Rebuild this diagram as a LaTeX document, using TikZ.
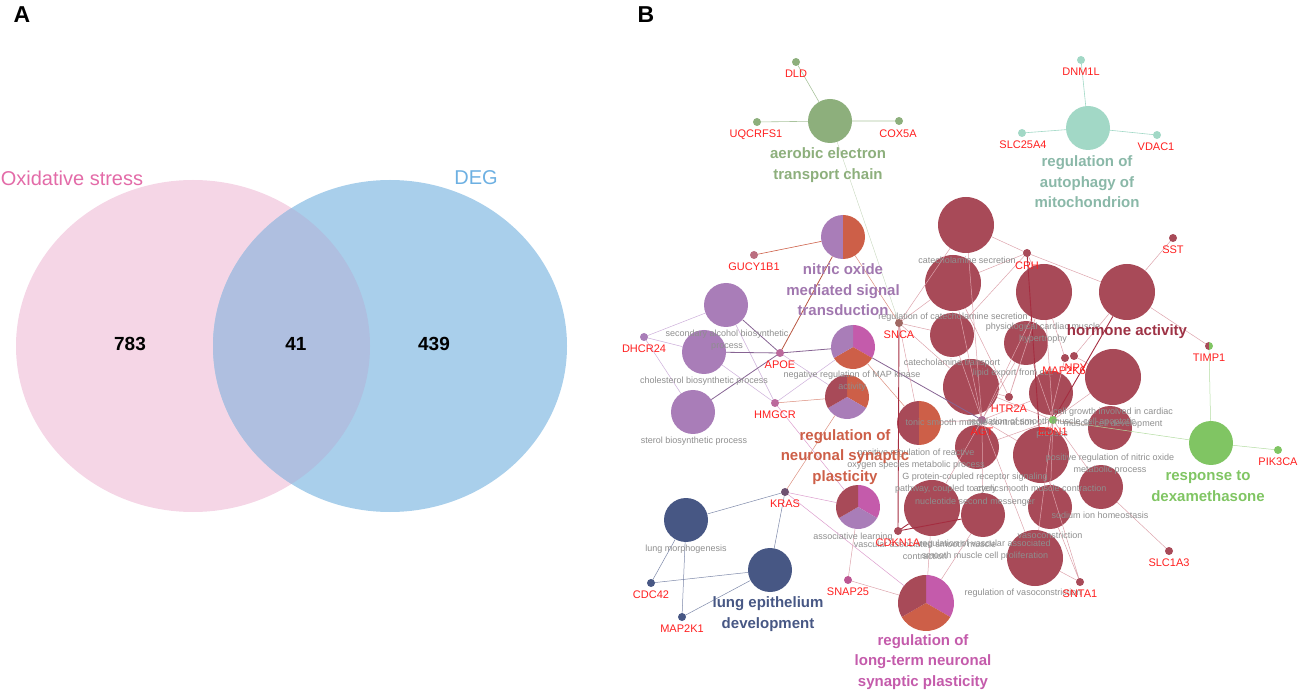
\documentclass[tikz,border=0pt]{standalone}
\usepackage{fontspec}
\setmainfont{Liberation Sans}
\definecolor{vpink}{HTML}{F5D6E6}
\definecolor{vblue}{HTML}{A9CFEB}
\definecolor{vmix}{HTML}{AFBFE0}
\definecolor{tpink}{HTML}{E36BA8}
\definecolor{tblue}{HTML}{6DB0E2}
\definecolor{dred}{HTML}{A84A58}
\definecolor{orng}{HTML}{CD5F48}
\definecolor{purp}{HTML}{A97DB8}
\definecolor{mag}{HTML}{C45BAB}
\definecolor{navy}{HTML}{475784}
\definecolor{aerg}{HTML}{8DAF7C}
\definecolor{teal}{HTML}{A2D8C6}
\definecolor{lgr}{HTML}{80C563}
\definecolor{genred}{HTML}{FF1F1F}
\definecolor{gtext}{HTML}{8E8E8E}
\definecolor{hred}{HTML}{9E3245}
\definecolor{lpk}{HTML}{DDA3AC}
\definecolor{lpu}{HTML}{CDAFDA}
\definecolor{dkedge}{HTML}{A52D40}
\newcommand\pieslice[5]{\fill[#5] (#1.center) -- ++(#2:#4) arc[start angle=#2, end angle=#3, radius=#4] -- cycle;}
\tikzset{
  term/.style={circle, inner sep=0pt, minimum size=#1, draw=none},
  gene/.style={circle, inner sep=0pt, minimum size=8pt},
  glab/.style={text=genred, font=\fontsize{11}{12}\selectfont, inner sep=0pt},
  tlab/.style={text=gtext, font=\fontsize{9}{12}\selectfont, align=center, inner sep=0pt},
  blab/.style={font=\bfseries\fontsize{15}{20.5}\selectfont, align=center, inner sep=0pt},
  edg/.style={draw=lpk, line width=0.5pt},
  pedg/.style={draw=lpu, line width=0.5pt},
  dkedg/.style={draw=dkedge, line width=0.9pt},
  num/.style={font=\bfseries\fontsize{19}{19}\selectfont, inner sep=0pt},
  panel/.style={font=\bfseries\fontsize{23}{23}\selectfont, inner sep=0pt}
}
\begin{document}
\begin{tikzpicture}[x=1pt,y=-1pt]
\useasboundingbox (0,0) rectangle (1299,692);
% ---------------- Panel A : Venn ----------------
\node[panel] (pA) at (22,15) {A};
\fill[vpink] (193,346) ellipse [x radius=177pt, y radius=166pt];
\fill[vblue] (390,346) ellipse [x radius=177pt, y radius=166pt];
\begin{scope}
  \clip (193,346) ellipse [x radius=177pt, y radius=166pt];
  \fill[vmix] (390,346) ellipse [x radius=177pt, y radius=166pt];
\end{scope}
\node[text=tpink, font=\fontsize{20}{20}\selectfont, inner sep=0pt] (los) at (72,178) {Oxidative stress};
\node[text=tblue, font=\fontsize{20}{20}\selectfont, inner sep=0pt] (ldeg) at (476,178) {DEG};
\node[num] (n1) at (130,344) {783};
\node[num] (n2) at (296,344) {41};
\node[num] (n3) at (434,344) {439};
% ---------------- Panel B : network ----------------
\node[panel] (pB) at (646,15) {B};
% term circles
\node[term=44pt, fill=aerg] (aer) at (830,121) {};
\node[term=44pt, fill=teal] (aut) at (1088,128) {};
\node[term=44pt, fill=purp] (sec) at (726,305) {};
\node[term=44pt, fill=purp] (chol) at (704,352) {};
\node[term=44pt, fill=purp] (ster) at (693,412) {};
\node[term=44pt, fill=navy] (lung) at (686,520) {};
\node[term=44pt, fill=navy] (lepi) at (770,570) {};
\node[term=44pt, fill=lgr] (dex) at (1211,443) {};
\node[term=56pt, fill=dred] (A) at (966,225) {};
\node[term=56pt, fill=dred] (B) at (953,283) {};
\node[term=44pt, fill=dred] (C) at (952,335) {};
\node[term=56pt, fill=dred] (D) at (1044,292) {};
\node[term=44pt, fill=dred] (E) at (1026,343) {};
\node[term=56pt, fill=dred] (F) at (1127,292) {};
\node[term=56pt, fill=dred] (G) at (971,387) {};
\node[term=44pt, fill=dred] (H) at (1051,393) {};
\node[term=56pt, fill=dred] (N) at (1113,377) {};
\node[term=44pt, fill=dred] (O) at (1110,428) {};
\node[term=44pt, fill=dred] (I) at (977,447) {};
\node[term=56pt, fill=dred] (J) at (1041,455) {};
\node[term=44pt, fill=dred] (Q) at (1101,487) {};
\node[term=56pt, fill=dred] (K) at (932,508) {};
\node[term=44pt, fill=dred] (L) at (983,515) {};
\node[term=44pt, fill=dred] (M) at (1050,507) {};
\node[term=56pt, fill=dred] (S) at (1035,558) {};
% pie charts
\node[term=44pt] (nit) at (843,237) {};
\pieslice{nit}{90}{270}{22pt}{purp}
\pieslice{nit}{-90}{90}{22pt}{orng}
\node[term=44pt] (mapk) at (853,347) {};
\pieslice{mapk}{-30}{90}{22pt}{mag}
\pieslice{mapk}{210}{330}{22pt}{orng}
\pieslice{mapk}{90}{210}{22pt}{purp}
\node[term=44pt] (neur) at (847,397) {};
\pieslice{neur}{-30}{90}{22pt}{orng}
\pieslice{neur}{210}{330}{22pt}{purp}
\pieslice{neur}{90}{210}{22pt}{dred}
\node[term=44pt] (ton) at (919,423) {};
\pieslice{ton}{90}{270}{22pt}{dred}
\pieslice{ton}{-90}{90}{22pt}{orng}
\node[term=44pt] (asso) at (858,507) {};
\pieslice{asso}{-30}{90}{22pt}{mag}
\pieslice{asso}{210}{330}{22pt}{purp}
\pieslice{asso}{90}{210}{22pt}{dred}
\node[term=56pt] (ltp) at (926,603) {};
\pieslice{ltp}{-30}{90}{28pt}{mag}
\pieslice{ltp}{210}{330}{28pt}{orng}
\pieslice{ltp}{90}{210}{28pt}{dred}
% gene dots
\node[gene, fill=aerg] (DLD) at (796,62) {};
\node[gene, fill=aerg] (UQC) at (757,122) {};
\node[gene, fill=aerg] (COX) at (899,121) {};
\node[gene, fill=teal] (DNM) at (1081,60) {};
\node[gene, fill=teal] (SLC25) at (1022,133) {};
\node[gene, fill=teal] (VDAC) at (1157,135) {};
\node[gene, fill=lgr] (PIK) at (1278,450) {};
% edges
\draw[draw=aerg!75, line width=0.6pt] (DLD) -- (aer) (UQC) -- (aer) (COX) -- (aer);
\draw[draw=teal, line width=0.6pt] (DNM) -- (aut) (SLC25) -- (aut) (VDAC) -- (aut);
\coordinate (cSNCA) at (899,323);
\coordinate (cAGT) at (982,420);
\coordinate (cEDN) at (1053,420);
\coordinate (cAPOE) at (780,353);
\coordinate (cHMG) at (775,403);
\coordinate (cKRAS) at (785,492);
\coordinate (cCRH) at (1027,253);
\coordinate (cTIMP) at (1209,346);
\draw[draw=aerg!50, line width=0.4pt] (aer) -- (cSNCA);
\draw[draw=lgr!60, line width=0.5pt] (cTIMP) -- (dex) (cEDN) -- (dex) (PIK) -- (dex);
% purple group
\coordinate (cDHC) at (644,337);
\coordinate (cGUC) at (754,255);
\draw[pedg] (cDHC) -- (sec) (cDHC) -- (chol) (cDHC) -- (ster)
  (cHMG) -- (sec) (cHMG) -- (chol) (cHMG) -- (mapk) (cAPOE) -- (neur);
\draw[draw=purp!80!black, line width=0.8pt] (cAPOE) -- (sec) (cAPOE) -- (chol) (cAPOE) -- (ster) (cAPOE) -- (mapk) (mapk) -- (cAGT);
\draw[draw=orng, line width=0.6pt] (cGUC) -- (nit);
\draw[draw=orng!90!black, line width=0.8pt] (cAPOE) -- (nit);
\draw[draw=orng!70, line width=0.5pt] (nit) -- (cSNCA) (cKRAS) -- (neur) (cHMG) -- (neur) (mapk) -- (ton);
\draw[draw=mag!60, line width=0.5pt] (cKRAS) -- (asso) (cKRAS) -- (ltp) (cHMG) -- (asso);
% lung group
\coordinate (cCDC) at (651,583);
\coordinate (cMAP2K1) at (682,617);
\draw[draw=navy!70, line width=0.5pt] (cKRAS) -- (lung) (cKRAS) -- (lepi) (cCDC) -- (lung) (cCDC) -- (lepi) (cMAP2K1) -- (lung) (cMAP2K1) -- (lepi);
% hormone cluster
\coordinate (cSST) at (1173,238);
\coordinate (cHTR) at (1009,397);
\coordinate (cMAPK6) at (1065,358);
\coordinate (cNPY) at (1074,356);
\coordinate (cCDK) at (898,531);
\coordinate (cSNTA) at (1080,582);
\coordinate (cSLC1) at (1169,551);
\coordinate (cSNAP) at (848,580);
\draw[edg] (cCRH) -- (A) (cCRH) -- (B) (cCRH) -- (D) (cCRH) -- (F) (cCRH) -- (C)
  (cSST) -- (F) (cTIMP) -- (F)
  (cSNCA) -- (A) (cSNCA) -- (B) (cSNCA) -- (C) (cSNCA) -- (G) (cSNCA) -- (ton)
  (cAGT) -- (A) (cAGT) -- (B) (cAGT) -- (C) (cAGT) -- (D) (cAGT) -- (E) (cAGT) -- (I)
  (cAGT) -- (J) (cAGT) -- (K) (cAGT) -- (L) (cAGT) -- (S) (cAGT) -- (ton) (cAGT) -- (H)
  (cHTR) -- (G) (cHTR) -- (D) (cHTR) -- (B) (cHTR) -- (E)
  (cEDN) -- (D) (cEDN) -- (N) (cEDN) -- (O) (cEDN) -- (J) (cEDN) -- (M) (cEDN) -- (S)
  (cEDN) -- (Q) (cEDN) -- (E) (cEDN) -- (I) (cEDN) -- (G)
  (cMAPK6) -- (D) (cMAPK6) -- (J) (cNPY) -- (F) (cNPY) -- (N)
  (cSNTA) -- (S) (cSNTA) -- (M) (cSNTA) -- (J) (cSLC1) -- (Q)
  (ltp) -- (K) (ltp) -- (L) (cSNAP) -- (asso) (cSNAP) -- (ltp);
\draw[dkedg] (cEDN) -- (F) (cEDN) -- (H) (cCRH) -- (J) (cCDK) -- (L) (cSNCA) -- (cCDK) (cCDK) -- (K);
% gene dots drawn on top of edges
\node[gene, fill=purp] (DHCR24) at (cDHC) {};
\node[gene, fill=purp!50!orng] (GUCY1B1) at (cGUC) {};
\node[gene, fill=purp!50!mag!80!orng] (APOE) at (cAPOE) {};
\node[gene, fill=purp!50!mag!80!orng] (HMGCR) at (cHMG) {};
\node[gene, fill=navy!60!dred] (KRAS) at (cKRAS) {};
\node[gene, fill=navy] (CDC42) at (cCDC) {};
\node[gene, fill=navy] (MAP2K1) at (cMAP2K1) {};
\node[gene, fill=mag!70!dred] (SNAP25) at (cSNAP) {};
\node[gene, fill=dred] (CDKN1A) at (cCDK) {};
\node[gene, fill=dred!70!aerg] (SNCA) at (cSNCA) {};
\node[gene, fill=dred] (CRH) at (cCRH) {};
\node[gene, fill=dred] (SST) at (cSST) {};
\node[gene, fill=dred] (HTR2A) at (cHTR) {};
\node[gene, fill=dred] (MAP2K6) at (cMAPK6) {};
\node[gene, fill=dred] (NPY) at (cNPY) {};
\node[gene, fill=dred] (SNTA1) at (cSNTA) {};
\node[gene, fill=dred] (SLC1A3) at (cSLC1) {};
\node[gene, fill=purp!60!dred] (AGT) at (cAGT) {};
\node[gene, fill=lgr] (EDN1) at (cEDN) {};
\node[gene] (TIMP1) at (cTIMP) {};
\pieslice{TIMP1}{90}{270}{4pt}{dred}
\pieslice{TIMP1}{-90}{90}{4pt}{lgr}
% grey term labels
\node[tlab] (l1) at (727,340) {secondary alcohol biosynthetic\\process};
\node[tlab] (l2) at (704,381) {cholesterol biosynthetic process};
\node[tlab] (l3) at (694,441) {sterol biosynthetic process};
\node[tlab] (l4) at (852,381) {negative regulation of MAP kinase\\activity};
\node[tlab] (l5) at (967,260) {catecholamine secretion};
\node[tlab] (l6) at (953,317) {regulation of catecholamine secretion};
\node[tlab] (l7) at (1043,333) {physiological cardiac muscle\\hypertrophy};
\node[tlab] (l8) at (952,363) {catecholamine transport};
\node[tlab] (l9) at (1013,373) {lipid export from cell};
\node[tlab] (l10) at (970,422) {tonic smooth muscle contraction};
\node[tlab] (l11) at (1052,428) {regulation of smooth muscle cell apoptotic\\process};
\node[tlab] (l12) at (1113,418) {cell growth involved in cardiac\\muscle cell development};
\node[tlab] (l13) at (916,459) {positive regulation of reactive\\oxygen species metabolic process};
\node[tlab] (l14) at (1110,464) {positive regulation of nitric oxide\\metabolic process};
\node[tlab] (l15) at (975,477) {G protein-coupled receptor signaling};
\node[tlab] (l16) at (947,489) {pathway, coupled to cyclic};
\node[tlab] (l17) at (975,502) {nucleotide second messenger};
\node[tlab] (l18) at (1040,489) {artery smooth muscle contraction};
\node[tlab] (l19) at (1100,515) {sodium ion homeostasis};
\node[tlab] (l20) at (1050,535) {vasoconstriction};
\node[tlab] (l21) at (925,550) {vascular associated smooth muscle\\contraction};
\node[tlab] (l22) at (985,550) {regulation of vascular associated\\smooth muscle cell proliferation};
\node[tlab] (l23) at (853,537) {associative learning};
\node[tlab] (l24) at (1023,593) {regulation of vasoconstriction};
\node[tlab] (l25) at (686,549) {lung morphogenesis};
% gene labels
\node[glab] at (796,74) {DLD};
\node[glab] at (756,135) {UQCRFS1};
\node[glab] at (898,134) {COX5A};
\node[glab] at (1081,72) {DNM1L};
\node[glab] at (1023,145) {SLC25A4};
\node[glab] at (1156,147) {VDAC1};
\node[glab] at (754,267) {GUCY1B1};
\node[glab] at (644,349) {DHCR24};
\node[glab] at (780,365) {APOE};
\node[glab] at (775,415) {HMGCR};
\node[glab] at (785,504) {KRAS};
\node[glab] at (651,595) {CDC42};
\node[glab] at (682,629) {MAP2K1};
\node[glab] at (848,592) {SNAP25};
\node[glab] at (898,543) {CDKN1A};
\node[glab] at (899,335) {SNCA};
\node[glab] at (1027,266) {CRH};
\node[glab] at (1173,250) {SST};
\node[glab] at (1209,358) {TIMP1};
\node[glab] at (1064,371) {MAP2K6};
\node[glab] at (1076,368) {NPY};
\node[glab] at (1009,409) {HTR2A};
\node[glab] at (982,432) {AGT};
\node[glab] at (1053,432) {EDN1};
\node[glab] at (1080,594) {SNTA1};
\node[glab] at (1169,563) {SLC1A3};
\node[glab] at (1278,462) {PIK3CA};
% bold term labels
\node[blab, text=aerg] (tAer) at (828,165) {aerobic electron\\transport chain};
\node[blab, text=teal!85!black] (tAut) at (1087,182) {regulation of\\autophagy of\\mitochondrion};
\node[blab, text=purp!95!black] (tNit) at (843,290) {nitric oxide\\mediated signal\\transduction};
\node[blab, text=hred] (tHor) at (1127,332) {hormone activity};
\node[blab, text=orng] (tNeur) at (845,457) {regulation of\\neuronal synaptic\\plasticity};
\node[blab, text=lgr] (tDex) at (1208,486) {response to\\dexamethasone};
\node[blab, text=navy] (tLung) at (768,614) {lung epithelium\\development};
\node[blab, text=mag] (tLtp) at (923,662) {regulation of\\long-term neuronal\\synaptic plasticity};
\end{tikzpicture}
\end{document}
